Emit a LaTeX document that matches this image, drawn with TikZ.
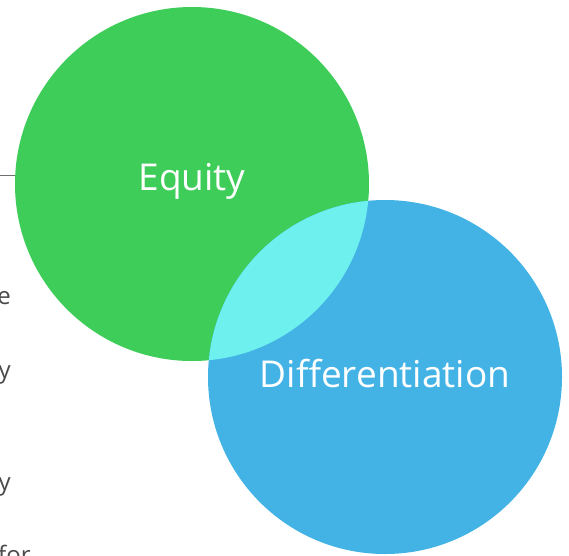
\documentclass[tikz,border=0pt]{standalone}
\usepackage{fontspec}
\setmainfont{Open Sans}
\usepackage{tikz}

\definecolor{equitygreen}{HTML}{3FCD5A}
\definecolor{diffblue}{HTML}{43B3E6}
\definecolor{overlapcyan}{HTML}{6DF0EE}
\definecolor{textgray}{HTML}{4A4A4A}

\begin{document}
\begin{tikzpicture}[x=1pt, y=-1pt, inner sep=0pt,
  circlelabel/.style={text=white, font=\fontsize{37}{37}\selectfont},
  sidetext/.style={text=textgray, font=\fontsize{24}{24}\selectfont, anchor=base east}]
\useasboundingbox (0,0) rectangle (569,555);
\begin{scope}
\clip (0,0) rectangle (569,555);

% rule running in from the left
\coordinate (rulestart) at (0,175);
\coordinate (ruleend) at (30,175);
\draw[textgray!80, line width=0.8pt] (rulestart) -- (ruleend);

% cut-off words of the side column
\node[sidetext] (w1) at (11,304) {e};
\node[sidetext] (w2) at (11,378) {y};
\node[sidetext] (w3) at (11,490) {y};
\node[sidetext, anchor=base west] (w4) at (-2,563) {for};

% the two sets
\fill[equitygreen] (192,184) circle (177);
\fill[diffblue] (385,377) circle (177);
\begin{scope}
\clip (192,184) circle (177);
\fill[overlapcyan] (385,377) circle (177);
\end{scope}

\node[circlelabel] (equity) at (192,181) {Equity};
\node[circlelabel] (diff) at (385,374) {Differentiation};
\end{scope}
\end{tikzpicture}
\end{document}
